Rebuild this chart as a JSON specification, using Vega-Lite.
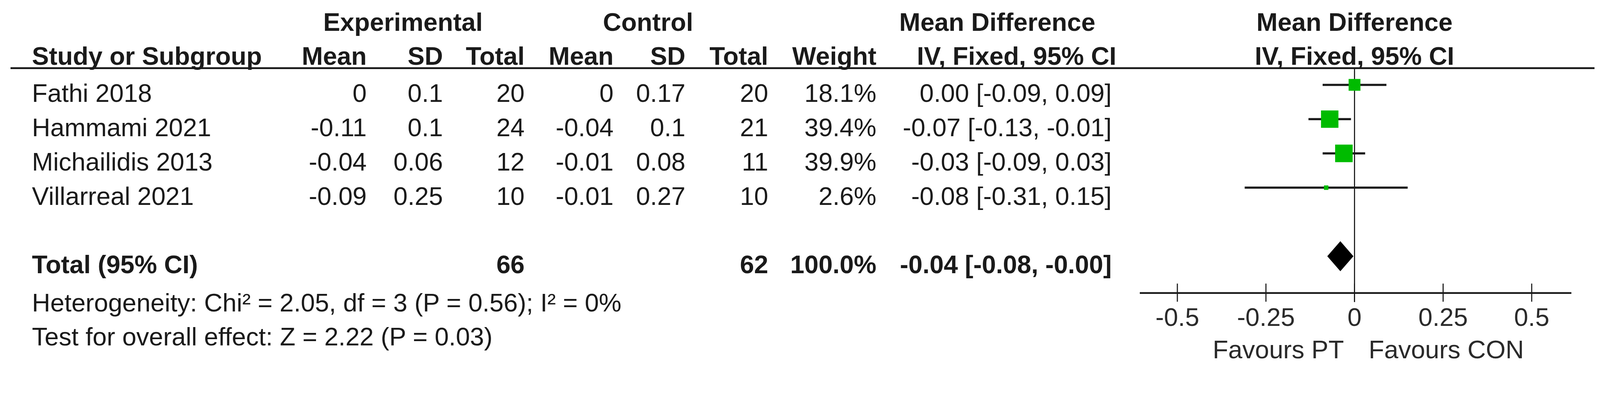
{
  "$schema": "https://vega.github.io/schema/vega-lite/v6.json",
  "width": 4107,
  "height": 957,
  "padding": 0,
  "autosize": {"type": "fit", "contains": "padding"},
  "background": "white",
  "config": {
    "view": {"stroke": null},
    "axis": {"disable": true},
    "text": {"font": "Liberation Sans", "fontSize": 65, "baseline": "middle", "color": "#1a1a1a"}
  },
  "datasets": {
    "studies": [
      {"study": "Fathi 2018", "e_mean": "0", "e_sd": "0.1", "e_total": "20", "c_mean": "0", "c_sd": "0.17", "c_total": "20", "weight": 18.1, "weight_label": "18.1%", "md": 0.0, "lo": -0.09, "hi": 0.09, "ci_label": "0.00 [-0.09, 0.09]"},
      {"study": "Hammami 2021", "e_mean": "-0.11", "e_sd": "0.1", "e_total": "24", "c_mean": "-0.04", "c_sd": "0.1", "c_total": "21", "weight": 39.4, "weight_label": "39.4%", "md": -0.07, "lo": -0.13, "hi": -0.01, "ci_label": "-0.07 [-0.13, -0.01]"},
      {"study": "Michailidis 2013", "e_mean": "-0.04", "e_sd": "0.06", "e_total": "12", "c_mean": "-0.01", "c_sd": "0.08", "c_total": "11", "weight": 39.9, "weight_label": "39.9%", "md": -0.03, "lo": -0.09, "hi": 0.03, "ci_label": "-0.03 [-0.09, 0.03]"},
      {"study": "Villarreal 2021", "e_mean": "-0.09", "e_sd": "0.25", "e_total": "10", "c_mean": "-0.01", "c_sd": "0.27", "c_total": "10", "weight": 2.6, "weight_label": "2.6%", "md": -0.08, "lo": -0.31, "hi": 0.15, "ci_label": "-0.08 [-0.31, 0.15]"}
    ],
    "total": [
      {"label": "Total (95% CI)", "e_total": "66", "c_total": "62", "weight_label": "100.0%", "md": -0.04, "lo": -0.08, "hi": 0.0, "ci_label": "-0.04 [-0.08, -0.00]"}
    ],
    "ticks": [
      {"v": -0.5, "label": "-0.5"},
      {"v": -0.25, "label": "-0.25"},
      {"v": 0, "label": "0"},
      {"v": 0.25, "label": "0.25"},
      {"v": 0.5, "label": "0.5"}
    ],
    "one": [{}]
  },
  "resolve": {"scale": {"x": "independent"}},
  "layer": [
    {
      "data": {"name": "one"},
      "mark": {"type": "rule", "strokeWidth": 4.6, "color": "#1a1a1a"},
      "encoding": {
        "x": {"datum": 29, "scale": {"domain": [0, 4419], "nice": false, "zero": false}},
        "x2": {"datum": 4392},
        "y": {"datum": 0.513, "scale": {"domain": [-1.4762, 9.4233], "nice": false, "zero": false, "reverse": true}}
      }
    },
    {
      "data": {"name": "one"},
      "mark": {"type": "text", "text": "Experimental", "fontWeight": "bold", "align": "center"},
      "encoding": {
        "x": {"datum": 1110, "scale": {"domain": [0, 4419], "nice": false, "zero": false}},
        "y": {"datum": -0.799, "scale": {"domain": [-1.4762, 9.4233], "nice": false, "zero": false, "reverse": true}}
      }
    },
    {
      "data": {"name": "one"},
      "mark": {"type": "text", "text": "Control", "fontWeight": "bold", "align": "center"},
      "encoding": {
        "x": {"datum": 1785, "scale": {"domain": [0, 4419], "nice": false, "zero": false}},
        "y": {"datum": -0.799, "scale": {"domain": [-1.4762, 9.4233], "nice": false, "zero": false, "reverse": true}}
      }
    },
    {
      "data": {"name": "one"},
      "mark": {"type": "text", "text": "Mean Difference", "fontWeight": "bold", "align": "center"},
      "encoding": {
        "x": {"datum": 2747, "scale": {"domain": [0, 4419], "nice": false, "zero": false}},
        "y": {"datum": -0.799, "scale": {"domain": [-1.4762, 9.4233], "nice": false, "zero": false, "reverse": true}}
      }
    },
    {
      "data": {"name": "one"},
      "mark": {"type": "text", "text": "Study or Subgroup", "fontWeight": "bold", "align": "left"},
      "encoding": {
        "x": {"datum": 88, "scale": {"domain": [0, 4419], "nice": false, "zero": false}},
        "y": {"datum": 0.185, "scale": {"domain": [-1.4762, 9.4233], "nice": false, "zero": false, "reverse": true}}
      }
    },
    {
      "data": {"name": "one"},
      "mark": {"type": "text", "text": "Mean", "fontWeight": "bold", "align": "right"},
      "encoding": {
        "x": {"datum": 1010, "scale": {"domain": [0, 4419], "nice": false, "zero": false}},
        "y": {"datum": 0.185, "scale": {"domain": [-1.4762, 9.4233], "nice": false, "zero": false, "reverse": true}}
      }
    },
    {
      "data": {"name": "one"},
      "mark": {"type": "text", "text": "SD", "fontWeight": "bold", "align": "right"},
      "encoding": {
        "x": {"datum": 1220, "scale": {"domain": [0, 4419], "nice": false, "zero": false}},
        "y": {"datum": 0.185, "scale": {"domain": [-1.4762, 9.4233], "nice": false, "zero": false, "reverse": true}}
      }
    },
    {
      "data": {"name": "one"},
      "mark": {"type": "text", "text": "Total", "fontWeight": "bold", "align": "right"},
      "encoding": {
        "x": {"datum": 1445, "scale": {"domain": [0, 4419], "nice": false, "zero": false}},
        "y": {"datum": 0.185, "scale": {"domain": [-1.4762, 9.4233], "nice": false, "zero": false, "reverse": true}}
      }
    },
    {
      "data": {"name": "one"},
      "mark": {"type": "text", "text": "Mean", "fontWeight": "bold", "align": "right"},
      "encoding": {
        "x": {"datum": 1690, "scale": {"domain": [0, 4419], "nice": false, "zero": false}},
        "y": {"datum": 0.185, "scale": {"domain": [-1.4762, 9.4233], "nice": false, "zero": false, "reverse": true}}
      }
    },
    {
      "data": {"name": "one"},
      "mark": {"type": "text", "text": "SD", "fontWeight": "bold", "align": "right"},
      "encoding": {
        "x": {"datum": 1888, "scale": {"domain": [0, 4419], "nice": false, "zero": false}},
        "y": {"datum": 0.185, "scale": {"domain": [-1.4762, 9.4233], "nice": false, "zero": false, "reverse": true}}
      }
    },
    {
      "data": {"name": "one"},
      "mark": {"type": "text", "text": "Total", "fontWeight": "bold", "align": "right"},
      "encoding": {
        "x": {"datum": 2116, "scale": {"domain": [0, 4419], "nice": false, "zero": false}},
        "y": {"datum": 0.185, "scale": {"domain": [-1.4762, 9.4233], "nice": false, "zero": false, "reverse": true}}
      }
    },
    {
      "data": {"name": "one"},
      "mark": {"type": "text", "text": "Weight", "fontWeight": "bold", "align": "right"},
      "encoding": {
        "x": {"datum": 2414, "scale": {"domain": [0, 4419], "nice": false, "zero": false}},
        "y": {"datum": 0.185, "scale": {"domain": [-1.4762, 9.4233], "nice": false, "zero": false, "reverse": true}}
      }
    },
    {
      "data": {"name": "one"},
      "mark": {"type": "text", "text": "IV, Fixed, 95% CI", "fontWeight": "bold", "align": "right"},
      "encoding": {
        "x": {"datum": 3075, "scale": {"domain": [0, 4419], "nice": false, "zero": false}},
        "y": {"datum": 0.185, "scale": {"domain": [-1.4762, 9.4233], "nice": false, "zero": false, "reverse": true}}
      }
    },
    {
      "data": {"name": "studies"},
      "transform": [{"window": [{"op": "row_number", "as": "row"}]}],
      "mark": {"type": "text", "align": "left", "dy": 24},
      "encoding": {
        "x": {"datum": 88, "scale": {"domain": [0, 4419], "nice": false, "zero": false}},
        "y": {"field": "row", "type": "quantitative", "scale": {"domain": [-1.4762, 9.4233], "nice": false, "zero": false, "reverse": true}},
        "text": {"field": "study", "type": "nominal"}
      }
    },
    {
      "data": {"name": "studies"},
      "transform": [{"window": [{"op": "row_number", "as": "row"}]}],
      "mark": {"type": "text", "align": "right", "dy": 24},
      "encoding": {
        "x": {"datum": 1010, "scale": {"domain": [0, 4419], "nice": false, "zero": false}},
        "y": {"field": "row", "type": "quantitative", "scale": {"domain": [-1.4762, 9.4233], "nice": false, "zero": false, "reverse": true}},
        "text": {"field": "e_mean", "type": "nominal"}
      }
    },
    {
      "data": {"name": "studies"},
      "transform": [{"window": [{"op": "row_number", "as": "row"}]}],
      "mark": {"type": "text", "align": "right", "dy": 24},
      "encoding": {
        "x": {"datum": 1220, "scale": {"domain": [0, 4419], "nice": false, "zero": false}},
        "y": {"field": "row", "type": "quantitative", "scale": {"domain": [-1.4762, 9.4233], "nice": false, "zero": false, "reverse": true}},
        "text": {"field": "e_sd", "type": "nominal"}
      }
    },
    {
      "data": {"name": "studies"},
      "transform": [{"window": [{"op": "row_number", "as": "row"}]}],
      "mark": {"type": "text", "align": "right", "dy": 24},
      "encoding": {
        "x": {"datum": 1445, "scale": {"domain": [0, 4419], "nice": false, "zero": false}},
        "y": {"field": "row", "type": "quantitative", "scale": {"domain": [-1.4762, 9.4233], "nice": false, "zero": false, "reverse": true}},
        "text": {"field": "e_total", "type": "nominal"}
      }
    },
    {
      "data": {"name": "studies"},
      "transform": [{"window": [{"op": "row_number", "as": "row"}]}],
      "mark": {"type": "text", "align": "right", "dy": 24},
      "encoding": {
        "x": {"datum": 1690, "scale": {"domain": [0, 4419], "nice": false, "zero": false}},
        "y": {"field": "row", "type": "quantitative", "scale": {"domain": [-1.4762, 9.4233], "nice": false, "zero": false, "reverse": true}},
        "text": {"field": "c_mean", "type": "nominal"}
      }
    },
    {
      "data": {"name": "studies"},
      "transform": [{"window": [{"op": "row_number", "as": "row"}]}],
      "mark": {"type": "text", "align": "right", "dy": 24},
      "encoding": {
        "x": {"datum": 1888, "scale": {"domain": [0, 4419], "nice": false, "zero": false}},
        "y": {"field": "row", "type": "quantitative", "scale": {"domain": [-1.4762, 9.4233], "nice": false, "zero": false, "reverse": true}},
        "text": {"field": "c_sd", "type": "nominal"}
      }
    },
    {
      "data": {"name": "studies"},
      "transform": [{"window": [{"op": "row_number", "as": "row"}]}],
      "mark": {"type": "text", "align": "right", "dy": 24},
      "encoding": {
        "x": {"datum": 2116, "scale": {"domain": [0, 4419], "nice": false, "zero": false}},
        "y": {"field": "row", "type": "quantitative", "scale": {"domain": [-1.4762, 9.4233], "nice": false, "zero": false, "reverse": true}},
        "text": {"field": "c_total", "type": "nominal"}
      }
    },
    {
      "data": {"name": "studies"},
      "transform": [{"window": [{"op": "row_number", "as": "row"}]}],
      "mark": {"type": "text", "align": "right", "dy": 24},
      "encoding": {
        "x": {"datum": 2414, "scale": {"domain": [0, 4419], "nice": false, "zero": false}},
        "y": {"field": "row", "type": "quantitative", "scale": {"domain": [-1.4762, 9.4233], "nice": false, "zero": false, "reverse": true}},
        "text": {"field": "weight_label", "type": "nominal"}
      }
    },
    {
      "data": {"name": "studies"},
      "transform": [{"window": [{"op": "row_number", "as": "row"}]}],
      "mark": {"type": "text", "align": "right", "dy": 24},
      "encoding": {
        "x": {"datum": 3062, "scale": {"domain": [0, 4419], "nice": false, "zero": false}},
        "y": {"field": "row", "type": "quantitative", "scale": {"domain": [-1.4762, 9.4233], "nice": false, "zero": false, "reverse": true}},
        "text": {"field": "ci_label", "type": "nominal"}
      }
    },
    {
      "data": {"name": "total"},
      "mark": {"type": "text", "align": "left", "dy": 24, "fontWeight": "bold"},
      "encoding": {
        "x": {"datum": 88, "scale": {"domain": [0, 4419], "nice": false, "zero": false}},
        "y": {"datum": 6, "scale": {"domain": [-1.4762, 9.4233], "nice": false, "zero": false, "reverse": true}},
        "text": {"field": "label", "type": "nominal"}
      }
    },
    {
      "data": {"name": "total"},
      "mark": {"type": "text", "align": "right", "dy": 24, "fontWeight": "bold"},
      "encoding": {
        "x": {"datum": 1445, "scale": {"domain": [0, 4419], "nice": false, "zero": false}},
        "y": {"datum": 6, "scale": {"domain": [-1.4762, 9.4233], "nice": false, "zero": false, "reverse": true}},
        "text": {"field": "e_total", "type": "nominal"}
      }
    },
    {
      "data": {"name": "total"},
      "mark": {"type": "text", "align": "right", "dy": 24, "fontWeight": "bold"},
      "encoding": {
        "x": {"datum": 2116, "scale": {"domain": [0, 4419], "nice": false, "zero": false}},
        "y": {"datum": 6, "scale": {"domain": [-1.4762, 9.4233], "nice": false, "zero": false, "reverse": true}},
        "text": {"field": "c_total", "type": "nominal"}
      }
    },
    {
      "data": {"name": "total"},
      "mark": {"type": "text", "align": "right", "dy": 24, "fontWeight": "bold"},
      "encoding": {
        "x": {"datum": 2414, "scale": {"domain": [0, 4419], "nice": false, "zero": false}},
        "y": {"datum": 6, "scale": {"domain": [-1.4762, 9.4233], "nice": false, "zero": false, "reverse": true}},
        "text": {"field": "weight_label", "type": "nominal"}
      }
    },
    {
      "data": {"name": "total"},
      "mark": {"type": "text", "align": "right", "dy": 24, "fontWeight": "bold"},
      "encoding": {
        "x": {"datum": 3062, "scale": {"domain": [0, 4419], "nice": false, "zero": false}},
        "y": {"datum": 6, "scale": {"domain": [-1.4762, 9.4233], "nice": false, "zero": false, "reverse": true}},
        "text": {"field": "ci_label", "type": "nominal"}
      }
    },
    {
      "data": {"name": "one"},
      "mark": {"type": "text", "align": "left", "text": "Heterogeneity: Chi² = 2.05, df = 3 (P = 0.56); I² = 0%"},
      "encoding": {
        "x": {"datum": 88, "scale": {"domain": [0, 4419], "nice": false, "zero": false}},
        "y": {"datum": 7.381, "scale": {"domain": [-1.4762, 9.4233], "nice": false, "zero": false, "reverse": true}}
      }
    },
    {
      "data": {"name": "one"},
      "mark": {"type": "text", "align": "left", "text": "Test for overall effect: Z = 2.22 (P = 0.03)"},
      "encoding": {
        "x": {"datum": 88, "scale": {"domain": [0, 4419], "nice": false, "zero": false}},
        "y": {"datum": 8.376, "scale": {"domain": [-1.4762, 9.4233], "nice": false, "zero": false, "reverse": true}}
      }
    },
    {
      "data": {"name": "one"},
      "mark": {"type": "text", "text": "Mean Difference", "fontWeight": "bold", "align": "center"},
      "encoding": {
        "x": {"datum": 0, "scale": {"domain": [-3.8227, 0.7049], "nice": false, "zero": false}},
        "y": {"datum": -0.799, "scale": {"domain": [-1.4762, 9.4233], "nice": false, "zero": false, "reverse": true}}
      }
    },
    {
      "data": {"name": "one"},
      "mark": {"type": "text", "text": "IV, Fixed, 95% CI", "fontWeight": "bold", "align": "center"},
      "encoding": {
        "x": {"datum": 0, "scale": {"domain": [-3.8227, 0.7049], "nice": false, "zero": false}},
        "y": {"datum": 0.185, "scale": {"domain": [-1.4762, 9.4233], "nice": false, "zero": false, "reverse": true}}
      }
    },
    {
      "data": {"name": "one"},
      "mark": {"type": "rule", "strokeWidth": 2.8, "color": "#1a1a1a"},
      "encoding": {
        "x": {"datum": 0, "scale": {"domain": [-3.8227, 0.7049], "nice": false, "zero": false}},
        "y": {"datum": 0.513, "scale": {"domain": [-1.4762, 9.4233], "nice": false, "zero": false, "reverse": true}},
        "y2": {"datum": 7.339}
      }
    },
    {
      "data": {"name": "one"},
      "mark": {"type": "rule", "strokeWidth": 4.6, "color": "#1a1a1a"},
      "encoding": {
        "x": {"datum": -0.606, "scale": {"domain": [-3.8227, 0.7049], "nice": false, "zero": false}},
        "x2": {"datum": 0.612},
        "y": {"datum": 7.074, "scale": {"domain": [-1.4762, 9.4233], "nice": false, "zero": false, "reverse": true}}
      }
    },
    {
      "data": {"name": "ticks"},
      "mark": {"type": "rule", "strokeWidth": 2.8, "color": "#1a1a1a"},
      "encoding": {
        "x": {"field": "v", "type": "quantitative", "scale": {"domain": [-3.8227, 0.7049], "nice": false, "zero": false}},
        "y": {"datum": 6.799, "scale": {"domain": [-1.4762, 9.4233], "nice": false, "zero": false, "reverse": true}},
        "y2": {"datum": 7.328}
      }
    },
    {
      "data": {"name": "ticks"},
      "mark": {"type": "text", "align": "center", "color": "#2a2a2a"},
      "encoding": {
        "x": {"field": "v", "type": "quantitative", "scale": {"domain": [-3.8227, 0.7049], "nice": false, "zero": false}},
        "y": {"datum": 7.804, "scale": {"domain": [-1.4762, 9.4233], "nice": false, "zero": false, "reverse": true}},
        "text": {"field": "label", "type": "nominal"}
      }
    },
    {
      "data": {"name": "one"},
      "mark": {"type": "text", "text": "Favours PT", "align": "right", "color": "#2a2a2a"},
      "encoding": {
        "x": {"datum": -0.03, "scale": {"domain": [-3.8227, 0.7049], "nice": false, "zero": false}},
        "y": {"datum": 8.757, "scale": {"domain": [-1.4762, 9.4233], "nice": false, "zero": false, "reverse": true}}
      }
    },
    {
      "data": {"name": "one"},
      "mark": {"type": "text", "text": "Favours CON", "align": "left", "color": "#2a2a2a"},
      "encoding": {
        "x": {"datum": 0.04, "scale": {"domain": [-3.8227, 0.7049], "nice": false, "zero": false}},
        "y": {"datum": 8.757, "scale": {"domain": [-1.4762, 9.4233], "nice": false, "zero": false, "reverse": true}}
      }
    },
    {
      "data": {"name": "studies"},
      "transform": [{"window": [{"op": "row_number", "as": "row"}]}],
      "mark": {"type": "rule", "strokeWidth": 5.5, "color": "#1a1a1a"},
      "encoding": {
        "x": {"field": "lo", "type": "quantitative", "scale": {"domain": [-3.8227, 0.7049], "nice": false, "zero": false}},
        "x2": {"field": "hi"},
        "y": {"field": "row", "type": "quantitative", "scale": {"domain": [-1.4762, 9.4233], "nice": false, "zero": false, "reverse": true}}
      }
    },
    {
      "data": {"name": "studies"},
      "transform": [{"window": [{"op": "row_number", "as": "row"}]}],
      "mark": {"type": "point", "shape": "square", "filled": true, "color": "#00bb00", "opacity": 1},
      "encoding": {
        "x": {"field": "md", "type": "quantitative", "scale": {"domain": [-3.8227, 0.7049], "nice": false, "zero": false}},
        "y": {"field": "row", "type": "quantitative", "scale": {"domain": [-1.4762, 9.4233], "nice": false, "zero": false, "reverse": true}},
        "size": {"field": "weight", "type": "quantitative", "scale": {"domain": [0, 40], "range": [0, 2020]}, "legend": null}
      }
    },
    {
      "data": {"name": "total"},
      "mark": {"type": "point", "shape": "M-1,0L0,-1.15L1,0L0,1.15Z", "filled": true, "color": "#000000", "opacity": 1, "size": 4480},
      "encoding": {
        "x": {"field": "md", "type": "quantitative", "scale": {"domain": [-3.8227, 0.7049], "nice": false, "zero": false}},
        "y": {"datum": 6, "scale": {"domain": [-1.4762, 9.4233], "nice": false, "zero": false, "reverse": true}}
      }
    }
  ]
}
